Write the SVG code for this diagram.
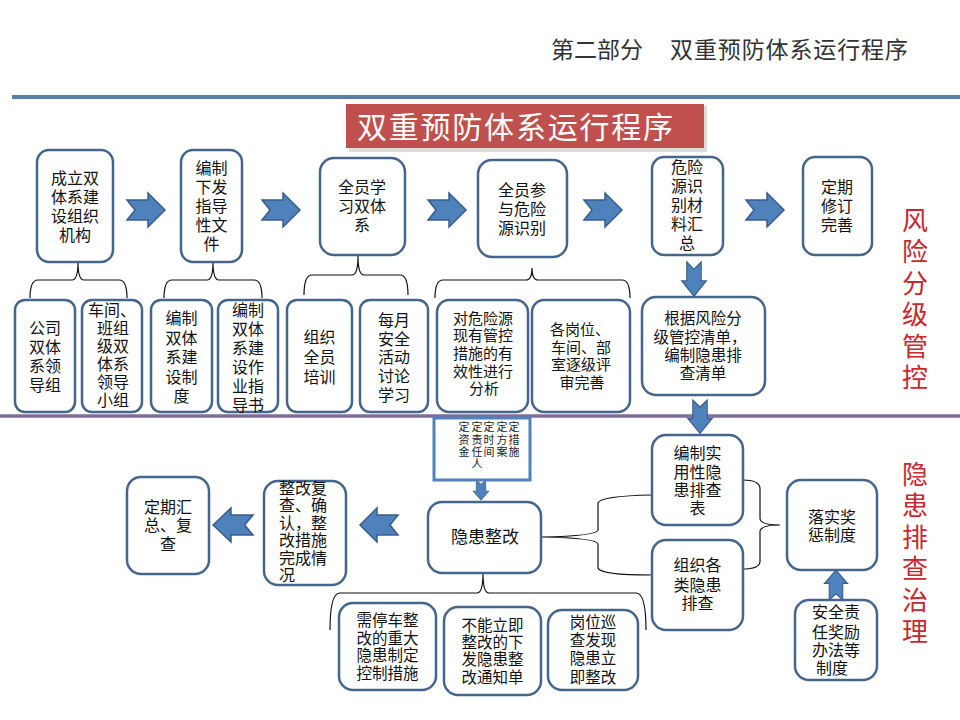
<svg xmlns="http://www.w3.org/2000/svg" xmlns:xlink="http://www.w3.org/1999/xlink" width="960" height="720" viewBox="0 0 960 720">
<style>
.box{fill:#fff;stroke:#45658c;stroke-width:2.5}
.t{font-family:"Liberation Sans","Noto Sans CJK SC",sans-serif;font-size:16px;fill:#111;text-anchor:middle}
.t15{font-size:15px}
.ts{font-family:"Liberation Sans","Noto Sans CJK SC",sans-serif;font-size:11px;fill:#222;text-anchor:middle}
.arr{fill:#4f81bd;stroke:#385d8a;stroke-width:1.5}
.brace{fill:none;stroke:#111;stroke-width:1.2}
.red{font-family:"Noto Sans CJK SC",sans-serif;font-size:26px;fill:#c8282e;writing-mode:vertical-rl;letter-spacing:5.5px}
</style>
<defs>
<path id="ra" d="M0,-10 L21,-10 L21,-17 L38,0 L21,17 L21,10 L0,10 L8,0 Z"/>
</defs>
<rect width="960" height="720" fill="#fff"/>
<g id="header">
<text x="551" y="58" font-family="'Noto Sans CJK SC',sans-serif" font-size="23" fill="#333">第二部分</text>
<text x="670" y="58" font-family="'Noto Sans CJK SC',sans-serif" font-size="23" fill="#333" textLength="238">双重预防体系运行程序</text>
<line x1="12" y1="97" x2="960" y2="97" stroke="#5a7ea6" stroke-width="4"/>
<line x1="0" y1="416" x2="960" y2="416" stroke="#7d6e9e" stroke-width="3.5"/>
</g>
<g id="title">
<rect x="349" y="106" width="358" height="46" fill="#dcdcdc"/>
<rect x="346" y="104" width="358" height="44" fill="#c0504d"/>
<text x="357" y="138" font-family="'Noto Sans CJK SC',sans-serif" font-size="30" fill="#fff" textLength="316">双重预防体系运行程序</text>
</g>
<g id="labels">
<text class="red" x="915" y="207">风险分级管控</text>
<text class="red" x="915" y="461">隐患排查治理</text>
</g>
<g id="connectors">
<use href="#ra" class="arr" transform="translate(127,210)"/>
<use href="#ra" class="arr" transform="translate(262,210)"/>
<use href="#ra" class="arr" transform="translate(428,210)"/>
<use href="#ra" class="arr" transform="translate(584,210)"/>
<use href="#ra" class="arr" transform="translate(746,210)"/>
<use href="#ra" class="arr" transform="translate(694,262) rotate(90) scale(0.9,0.72)"/>
<use href="#ra" class="arr" transform="translate(700,400) rotate(90) scale(0.88,0.72)"/>
<use href="#ra" class="arr" transform="translate(481,480) rotate(90) scale(0.53,0.47)"/>
<use href="#ra" class="arr" transform="translate(836,600) rotate(-90) scale(0.79,0.68)"/>
<use href="#ra" class="arr" transform="translate(398,525) scale(-1,1)"/>
<use href="#ra" class="arr" transform="translate(253,525) scale(-1.05,1)"/>
<path class="brace" d="M30,298 Q30,280 38,280 L72,280 Q78,280 78,262 Q78,280 84,280 L119,280 Q127,280 127,298"/>
<path class="brace" d="M164,298 Q164,280 172,280 L207,280 Q213,280 213,262 Q213,280 219,280 L254,280 Q262,280 262,298"/>
<path class="brace" d="M304,295 Q304,275 312,275 L352,275 Q358,275 358,256 Q358,275 364,275 L400,275 Q408,275 408,295"/>
<path class="brace" d="M435,298 Q435,280 443,280 L526,280 Q532,280 532,268 Q532,280 538,280 L622,280 Q630,280 630,298"/>
<path class="brace" d="M330,630 Q330,593 340,593 L477,593 Q483,593 483,573 Q483,593 489,593 L636,593 Q646,593 646,630"/>
<path class="brace" d="M652,495 Q600,496 598,503 L598,530 Q597,536 542,537 Q597,538 598,544 L598,568 Q600,575 652,575"/>
<path class="brace" d="M743,480 Q759,480 760,488 L760,519 Q761,525 780,525 Q761,525 760,531 L760,562 Q759,569 743,569"/>
</g>
<g id="n1"><rect class="box" x="37" y="150" width="76" height="112" rx="12"/>
<text class="t"><tspan x="75" y="184">成立双</tspan><tspan x="75" y="203">体系建</tspan><tspan x="75" y="222">设组织</tspan><tspan x="75" y="241">机构</tspan></text></g>
<g id="n2"><rect class="box" x="181" y="150" width="61" height="112" rx="12"/>
<text class="t"><tspan x="211.5" y="174">编制</tspan><tspan x="211.5" y="193">下发</tspan><tspan x="211.5" y="212">指导</tspan><tspan x="211.5" y="231">性文</tspan><tspan x="211.5" y="250">件</tspan></text></g>
<g id="n3"><rect class="box" x="320" y="158" width="85" height="97" rx="14"/>
<text class="t"><tspan x="362" y="193">全员学</tspan><tspan x="362" y="212">习双体</tspan><tspan x="362" y="231">系</tspan></text></g>
<g id="n4"><rect class="box" x="478" y="160" width="89" height="97" rx="14"/>
<text class="t"><tspan x="522" y="196">全员参</tspan><tspan x="522" y="215">与危险</tspan><tspan x="522" y="234">源识别</tspan></text></g>
<g id="n5"><rect class="box" x="652" y="157" width="71" height="98" rx="12"/>
<text class="t"><tspan x="687" y="173">危险</tspan><tspan x="687" y="192">源识</tspan><tspan x="687" y="211">别材</tspan><tspan x="687" y="230">料汇</tspan><tspan x="687" y="249">总</tspan></text></g>
<g id="n6"><rect class="box" x="803" y="157" width="69" height="98" rx="12"/>
<text class="t"><tspan x="837" y="193">定期</tspan><tspan x="837" y="212">修订</tspan><tspan x="837" y="231">完善</tspan></text></g>
<g id="b1"><rect class="box" x="15" y="300" width="60" height="112" rx="10"/>
<text class="t"><tspan x="45" y="334">公司</tspan><tspan x="45" y="353">双体</tspan><tspan x="45" y="372">系领</tspan><tspan x="45" y="391">导组</tspan></text></g>
<g id="b2"><rect class="box" x="82" y="300" width="60" height="112" rx="10"/>
<text class="t"><tspan x="112" y="316">车间、</tspan><tspan x="113" y="334">班组</tspan><tspan x="113" y="352">级双</tspan><tspan x="113" y="370">体系</tspan><tspan x="113" y="388">领导</tspan><tspan x="113" y="406">小组</tspan></text></g>
<g id="b3"><rect class="box" x="151" y="300" width="61" height="112" rx="10"/>
<text class="t"><tspan x="181.5" y="324">编制</tspan><tspan x="181.5" y="343.5">双体</tspan><tspan x="181.5" y="363">系建</tspan><tspan x="181.5" y="382.5">设制</tspan><tspan x="181.5" y="402">度</tspan></text></g>
<g id="b4"><rect class="box" x="218" y="300" width="60" height="112" rx="10"/>
<text class="t"><tspan x="248" y="316">编制</tspan><tspan x="248" y="335">双体</tspan><tspan x="248" y="354">系建</tspan><tspan x="248" y="373">设作</tspan><tspan x="248" y="392">业指</tspan><tspan x="248" y="411">导书</tspan></text></g>
<g id="b5"><rect class="box" x="287" y="300" width="65" height="112" rx="10"/>
<text class="t"><tspan x="319.5" y="343">组织</tspan><tspan x="319.5" y="363">全员</tspan><tspan x="319.5" y="383">培训</tspan></text></g>
<g id="b6"><rect class="box" x="360" y="300" width="68" height="112" rx="10"/>
<text class="t"><tspan x="394" y="326">每月</tspan><tspan x="394" y="345">安全</tspan><tspan x="394" y="363">活动</tspan><tspan x="394" y="382">讨论</tspan><tspan x="394" y="401">学习</tspan></text></g>
<g id="b7"><rect class="box" x="437" y="300" width="91" height="112" rx="12"/>
<text class="t t15"><tspan x="483" y="324">对危险源</tspan><tspan x="483" y="341">现有管控</tspan><tspan x="483" y="359">措施的有</tspan><tspan x="483" y="377">效性进行</tspan><tspan x="484" y="394">分析</tspan></text></g>
<g id="b8"><rect class="box" x="532" y="300" width="98" height="112" rx="12"/>
<text class="t t15"><tspan x="580" y="335">各岗位、</tspan><tspan x="581" y="353">车间、部</tspan><tspan x="581" y="370">室逐级评</tspan><tspan x="582" y="388">审完善</tspan></text></g>
<g id="b9"><rect class="box" x="642" y="297" width="123" height="98" rx="14"/>
<text class="t" style="font-size:15.5px"><tspan x="703" y="324">根据风险分</tspan><tspan x="700" y="343">级管控清单，</tspan><tspan x="703" y="361">编制隐患排</tspan><tspan x="703" y="379">查清单</tspan></text></g>
<g id="dingbox"><rect x="434" y="418" width="96" height="62" fill="#fff" stroke="#4f81bd" stroke-width="3"/>
<text class="ts"><tspan x="464" y="431">定</tspan><tspan x="464" y="444">资</tspan><tspan x="464" y="456">金</tspan></text>
<text class="ts"><tspan x="477" y="431">定</tspan><tspan x="477" y="444">责</tspan><tspan x="477" y="456">任</tspan><tspan x="477" y="468">人</tspan></text>
<text class="ts"><tspan x="489" y="431">定</tspan><tspan x="489" y="444">时</tspan><tspan x="489" y="456">间</tspan></text>
<text class="ts"><tspan x="502" y="431">定</tspan><tspan x="502" y="444">方</tspan><tspan x="502" y="456">案</tspan></text>
<text class="ts"><tspan x="514" y="431">定</tspan><tspan x="514" y="444">措</tspan><tspan x="514" y="456">施</tspan></text></g>
<g id="zhenggai"><rect class="box" x="428" y="502" width="113" height="71" rx="14"/>
<text class="t" style="font-size:17px"><tspan x="485" y="543">隐患整改</tspan></text></g>
<g id="fucha"><rect class="box" x="264" y="481" width="82" height="104" rx="14"/>
<text class="t" style="text-anchor:start"><tspan x="279" y="494">整改复</tspan><tspan x="279" y="511.4">查、确</tspan><tspan x="279" y="528.8">认，整</tspan><tspan x="279" y="546.2">改措施</tspan><tspan x="279" y="563.6">完成情</tspan><tspan x="279" y="581">况</tspan></text></g>
<g id="huizong"><rect class="box" x="127" y="477" width="82" height="97" rx="14"/>
<text class="t"><tspan x="168" y="513">定期汇</tspan><tspan x="168" y="531">总、复</tspan><tspan x="168" y="550">查</tspan></text></g>
<g id="c1"><rect class="box" x="339" y="603" width="97" height="87" rx="14"/>
<text class="t" style="font-size:15.5px"><tspan x="387.5" y="626">需停车整</tspan><tspan x="387.5" y="644">改的重大</tspan><tspan x="387.5" y="661">隐患制定</tspan><tspan x="387.5" y="679">控制措施</tspan></text></g>
<g id="c2"><rect class="box" x="444" y="607" width="97" height="88" rx="14"/>
<text class="t" style="font-size:15.5px"><tspan x="492.5" y="631">不能立即</tspan><tspan x="492.5" y="648">整改的下</tspan><tspan x="492.5" y="665">发隐患整</tspan><tspan x="492.5" y="683">改通知单</tspan></text></g>
<g id="c3"><rect class="box" x="548" y="610" width="90" height="80" rx="14"/>
<text class="t" style="font-size:15.5px"><tspan x="593" y="628">岗位巡</tspan><tspan x="593" y="646">查发现</tspan><tspan x="593" y="664">隐患立</tspan><tspan x="593" y="683">即整改</tspan></text></g>
<g id="paichabiao"><rect class="box" x="652" y="435" width="91" height="90" rx="14"/>
<text class="t"><tspan x="697.5" y="459">编制实</tspan><tspan x="697.5" y="478">用性隐</tspan><tspan x="697.5" y="496">患排查</tspan><tspan x="697.5" y="514">表</tspan></text></g>
<g id="paicha"><rect class="box" x="652" y="540" width="91" height="90" rx="14"/>
<text class="t"><tspan x="697.5" y="571">组织各</tspan><tspan x="697.5" y="591">类隐患</tspan><tspan x="697.5" y="609">排查</tspan></text></g>
<g id="jiangcheng"><rect class="box" x="787" y="480" width="90" height="90" rx="14"/>
<text class="t"><tspan x="832" y="523">落实奖</tspan><tspan x="832" y="541">惩制度</tspan></text></g>
<g id="zeren"><rect class="box" x="795" y="600" width="82" height="80" rx="14"/>
<text class="t"><tspan x="836" y="618">安全责</tspan><tspan x="836" y="638">任奖励</tspan><tspan x="836" y="656">办法等</tspan><tspan x="832" y="674">制度</tspan></text></g>
</svg>
